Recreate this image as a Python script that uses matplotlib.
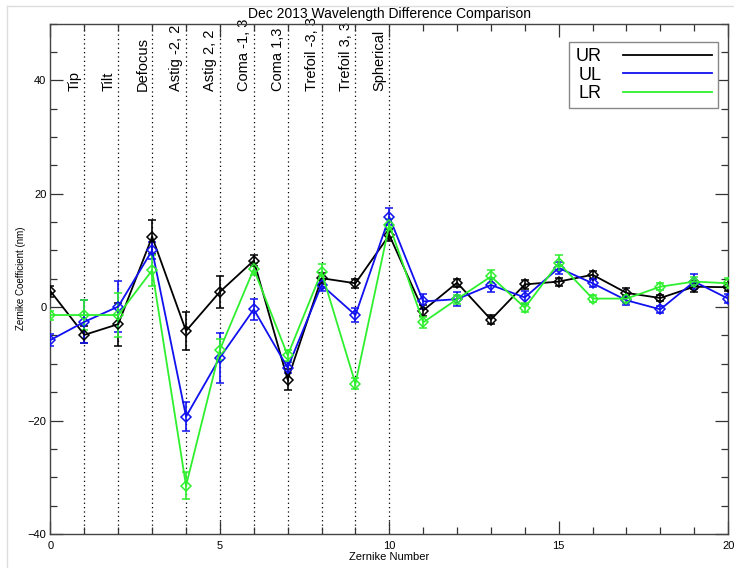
import numpy as np
import matplotlib
matplotlib.use("Agg")
import matplotlib.pyplot as plt
from matplotlib.lines import Line2D
from matplotlib.ticker import MultipleLocator

plt.rcParams["font.family"] = ["Liberation Sans", "DejaVu Sans"]

# ── data ──────────────────────────────────────────────────────────────────
zern = list(range(21))

ur     = [2.8, -4.9, -3.0, 12.4, -4.2, 2.7, 8.2, -12.8, 5.1, 4.2, 12.7,
          -0.6, 4.3, -2.2, 4.0, 4.5, 5.7, 2.5, 1.6, 3.6, 3.5]
ur_err = [1.0, 1.5, 3.8, 3.0, 3.4, 2.8, 0.9, 1.8, 1.0, 0.8, 1.0,
          0.9, 0.7, 0.8, 0.8, 0.7, 0.7, 0.8, 0.6, 1.0, 0.7]

ul     = [-5.8, -2.6, 0.1, 10.0, -19.3, -8.9, -0.4, -10.7, 3.9, -1.4, 15.9,
          1.0, 1.4, 3.9, 1.7, 6.9, 4.2, 1.2, -0.4, 4.5, 1.5]
ul_err = [1.0, 3.8, 4.5, 1.5, 2.6, 4.4, 1.8, 1.0, 1.0, 1.2, 1.5,
          1.3, 1.2, 1.2, 1.2, 1.0, 0.7, 0.9, 0.6, 1.3, 0.8]

lr     = [-1.4, -1.4, -1.4, 6.5, -31.5, -7.5, 6.7, -8.5, 6.2, -13.5, 14.5,
          -2.7, 1.4, 5.4, -0.1, 7.8, 1.5, 1.5, 3.6, 4.5, 4.2]
lr_err = [0.8, 2.6, 3.9, 2.7, 2.4, 1.9, 1.0, 1.0, 1.4, 1.0, 1.0,
          0.9, 0.8, 1.1, 0.8, 1.3, 0.6, 0.7, 0.6, 0.8, 0.9]

mode_pos   = [1, 2, 3, 4, 5, 6, 7, 8, 9, 10]
mode_names = ["Tip", "Tilt", "Defocus", "Astig -2, 2", "Astig 2, 2",
              "Coma -1, 3", "Coma 1,3", "Trefoil -3, 3", "Trefoil 3, 3", "Spherical"]

GREEN = "#2ef02e"

# ── figure ────────────────────────────────────────────────────────────────
fig = plt.figure(figsize=(7.34, 5.68), dpi=100, facecolor="white")
ax = fig.add_axes([0.0688, 0.0599, 0.9232, 0.8987])

series = [
    # (values, errors, colour, label)
    (ur, ur_err, "black", "UR"),
    (ul, ul_err, "#1010f0", "UL"),
    (lr, lr_err, GREEN, "LR"),
]
for vals, errs, col, lab in series:
    ax.errorbar(zern, vals, yerr=errs, color=col, lw=1.3, elinewidth=1.2,
                capsize=3, capthick=1.2, marker="D", ms=5.5, mfc="none",
                mec=col, mew=1.1, label=lab, zorder=3)

for xp, name in zip(mode_pos, mode_names):
    ax.axvline(xp, color="black", ls=(0, (1, 2.5)), lw=0.9, zorder=1)
    ax.text(xp - 0.08, 38.1, name, rotation=90, ha="right", va="bottom",
            fontsize=10.5, zorder=2)

ax.set_xlim(0, 20)
ax.set_ylim(-40, 50)
ax.xaxis.set_major_locator(MultipleLocator(5))
ax.xaxis.set_minor_locator(MultipleLocator(1))
ax.yaxis.set_major_locator(MultipleLocator(20))
ax.yaxis.set_minor_locator(MultipleLocator(5))
ax.tick_params(which="both", direction="in", top=True, right=True,
               labelsize=8, color="#333", width=0.9)
ax.tick_params(which="major", length=9.5)
ax.tick_params(which="minor", length=5)
ax.tick_params(axis="x", pad=5)
ax.tick_params(axis="y", pad=3)
for sp in ax.spines.values():
    sp.set_color("#444")
    sp.set_linewidth(1.0)

ax.set_title("Dec 2013 Wavelength Difference Comparison", fontsize=10, pad=4)
ax.set_xlabel("Zernike Number", fontsize=8, labelpad=1)
ax.set_ylabel("Zernike Coefficient (nm)", fontsize=7, labelpad=1)

handles = [Line2D([], [], color=c, lw=1.3) for _, _, c, _ in series]
labels = [lab for *_, lab in series]
leg = ax.legend(handles, labels, loc="upper right", bbox_to_anchor=(0.985, 0.964),
                borderaxespad=0, markerfirst=False, fontsize=13, handlelength=4.9,
                handletextpad=1.2, labelspacing=0.08, borderpad=0.35,
                fancybox=False, framealpha=1)
leg.get_frame().set_edgecolor("#888")
leg.get_frame().set_linewidth(1.0)

# light screenshot border
fig.add_artist(Line2D([7 / 734, 7 / 734], [0, 1 - 6 / 568], color="#ddd", lw=1))
fig.add_artist(Line2D([7 / 734, 1], [1 - 6 / 568, 1 - 6 / 568], color="#ddd", lw=1))

fig.savefig("out.png", dpi=100, facecolor="white")
